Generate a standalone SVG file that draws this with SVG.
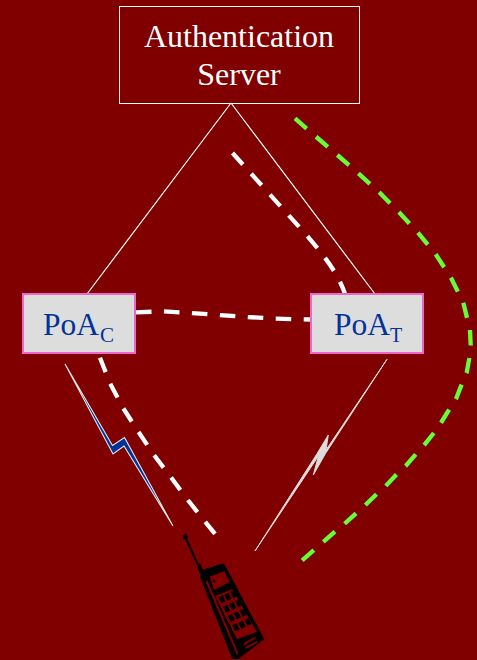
<svg xmlns="http://www.w3.org/2000/svg" width="477" height="660" viewBox="0 0 477 660">
<style>
.t{font-family:"Liberation Serif","Times New Roman",serif}
.w{fill:#fff;font-size:32px;text-anchor:middle}
.b{fill:#003399}
.box{fill:#dddddd;stroke:#ee66cc;stroke-width:2}
.thin{fill:none;stroke:#fff;stroke-width:1.200}
.dash{fill:none;stroke:#fff;stroke-width:4.300;stroke-dasharray:15.500 12.500}
.g{fill:none;stroke:#66ff33;stroke-width:4.300;stroke-dasharray:15.500 12.500}
</style>
<defs>
<path id="key" d="M0 0L13 -6L22 12L9 18Z" fill="#000"/>
</defs>
<rect width="477" height="660" fill="#800000"/>
<g id="connectors">
<path class="thin" d="M231 103L87 294M231 103L375 294"/>
<path class="dash" d="M232.500 153L307.300 236C320 251 338 272 345 294"/>
<path class="dash" d="M136 312.300L163.300 311.300L191.300 313L219.300 315L247.300 317L275.300 318.700L311 319.500"/>
<path class="dash" d="M100 357.700L110 383.300L123.300 408.300L138.300 431.700L154 455L170.700 477L187.300 499.300L205 521.700L215.500 534.500"/>
<path class="g" d="M295 118.300L316 136.700L337.300 155L358.300 173.300L379.300 192.300L399 212.300L417.700 232.300L435.700 254.300L451 277.700L463.300 302.700L470 330L470.700 345L469.300 358.300L466.700 372.700L461.700 384.300L456 399L449.300 409.300L441 422.700L434 432.700L424 445.300L416 454L405.700 466L396.700 474.300L385.700 486L376.700 494L365 505.300L356.700 512.700L344.300 524L335.700 531L323.300 542L314.300 549.700L301.700 560.700"/>
<path id="linkC" d="M65 364L113 454L124 446L173 526L124.500 437.500L112.500 445.500Z" fill="#003399" stroke="#e8e8e8" stroke-width="1.100"/>
<path id="linkT" d="M387 359.300L325.500 453.500L313.300 475L318.500 456L255 551L316.500 454.500L328.300 435L326 450Z" fill="#dddddd" stroke="#dddddd" stroke-width="1"/>
</g>
<g id="auth">
<rect x="119.500" y="6.500" width="240" height="97" fill="none" stroke="#fff" stroke-width="1"/>
<text class="t w" x="239" y="47">Authentication</text>
<text class="t w" x="239" y="85">Server</text>
</g>
<g id="poac">
<rect class="box" x="23" y="294" width="112" height="59"/>
<text class="t b" x="43" y="335" font-size="31.500">PoA</text>
<text class="t b" x="100" y="342" font-size="21">C</text>
</g>
<g id="poat">
<rect class="box" x="311" y="294" width="112" height="59"/>
<text class="t b" x="334" y="335" font-size="31.500">PoA</text>
<text class="t b" x="390" y="342" font-size="20">T</text>
</g>
<g id="phone">
<circle cx="185.300" cy="536.700" r="2.500" fill="#000"/>
<path d="M185.300 537L198 565" stroke="#000" stroke-width="2" fill="none"/>
<path d="M197 566L200 563L204 572L200 574Z" fill="#000"/>
<g transform="translate(195 560) scale(0.3333)">
<path d="M15 50L22 30L85 10L95 25L208 238L130 297L112 297Z" fill="#000"/>
<path d="M32 65L38 62L130 280L126 285Z" fill="#800000"/>
<path d="M44 50L88 34L104 66L58 90Z" fill="#800000"/>
<circle cx="57" cy="63" r="4" fill="#000"/>
<path d="M60 108L112 88L186 216L126 238Z" fill="#800000"/>
<use href="#key" x="70" y="112"/><use href="#key" x="88" y="104"/><use href="#key" x="106" y="96"/>
<use href="#key" x="84" y="140"/><use href="#key" x="102" y="132"/><use href="#key" x="120" y="124"/>
<use href="#key" x="98" y="168"/><use href="#key" x="116" y="160"/><use href="#key" x="134" y="152"/>
<use href="#key" x="112" y="196"/><use href="#key" x="130" y="188"/><use href="#key" x="148" y="180"/>
<path d="M145 250L180 230L183 235L148 255Z" fill="#800000"/>
<path d="M150 262L186 242L189 247L153 267Z" fill="#800000"/>
</g>
</g>
</svg>
